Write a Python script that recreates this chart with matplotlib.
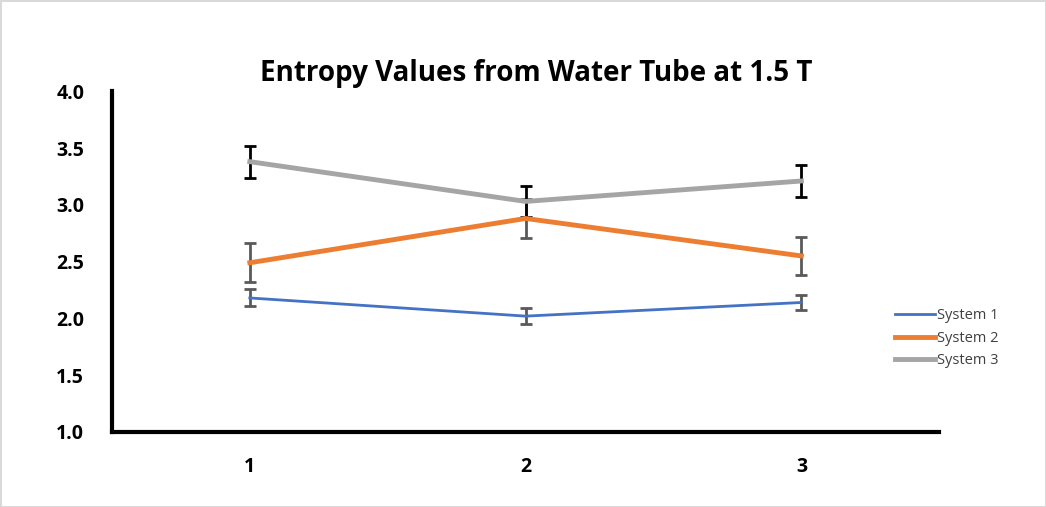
import matplotlib
matplotlib.use("Agg")
import matplotlib.pyplot as plt
import numpy as np

plt.rcParams['font.family'] = ['Open Sans', 'DejaVu Sans']

# data
x = [1, 2, 3]
sys1 = [2.18, 2.02, 2.14]
sys1_err = [0.075, 0.07, 0.07]
sys2 = [2.49, 2.88, 2.55]
sys2_err = [0.17, 0.17, 0.17]
sys3 = [3.38, 3.03, 3.21]
sys3_err = [0.14, 0.14, 0.145]

fig = plt.figure(figsize=(10.46, 5.07), dpi=100)
fig.patch.set_edgecolor('#d9d9d9')
fig.patch.set_linewidth(2)
ax = fig.add_axes([0.107, 0.148, 0.791, 0.672])

ax.errorbar(x, sys1, yerr=sys1_err, color='#4472c4', lw=2, label='System 1',
            ecolor='#595959', elinewidth=2, capsize=4, capthick=2)
ax.errorbar(x, sys2, yerr=sys2_err, color='#ed7d31', lw=3.5, label='System 2',
            ecolor='#595959', elinewidth=2, capsize=4, capthick=2)
ax.errorbar(x, sys3, yerr=sys3_err, color='#a5a5a5', lw=3.5, label='System 3',
            ecolor='black', elinewidth=2, capsize=4, capthick=2)

ax.set_xlim(0.5, 3.5)
ax.set_ylim(1.0, 4.0)
ax.set_xticks(x)
ax.set_yticks(np.arange(1.0, 4.01, 0.5))
ax.set_yticklabels([f'{v:.1f}' for v in np.arange(1.0, 4.01, 0.5)])
ax.tick_params(length=0, labelsize=14)
for lab in ax.get_xticklabels() + ax.get_yticklabels():
    lab.set_fontweight('bold')
ax.tick_params(axis='y', pad=20)
ax.tick_params(axis='x', pad=18)

for s in ['top', 'right']:
    ax.spines[s].set_visible(False)
for s in ['left', 'bottom']:
    ax.spines[s].set_linewidth(3)

fig.text(0.513, 0.84, 'Entropy Values from Water Tube at 1.5 T', ha='center',
         fontsize=20, fontweight='bold')

handles, labels = ax.get_legend_handles_labels()
handles = [h[0] for h in handles]
leg = ax.legend(handles, labels, loc='center left', bbox_to_anchor=(0.93, 0.275),
                frameon=False, fontsize=10.5, handlelength=2.8, handletextpad=0.1,
                labelspacing=0.5)
for t in leg.get_texts():
    t.set_color('#404040')

fig.savefig('out.png', dpi=100, edgecolor=fig.get_edgecolor())
